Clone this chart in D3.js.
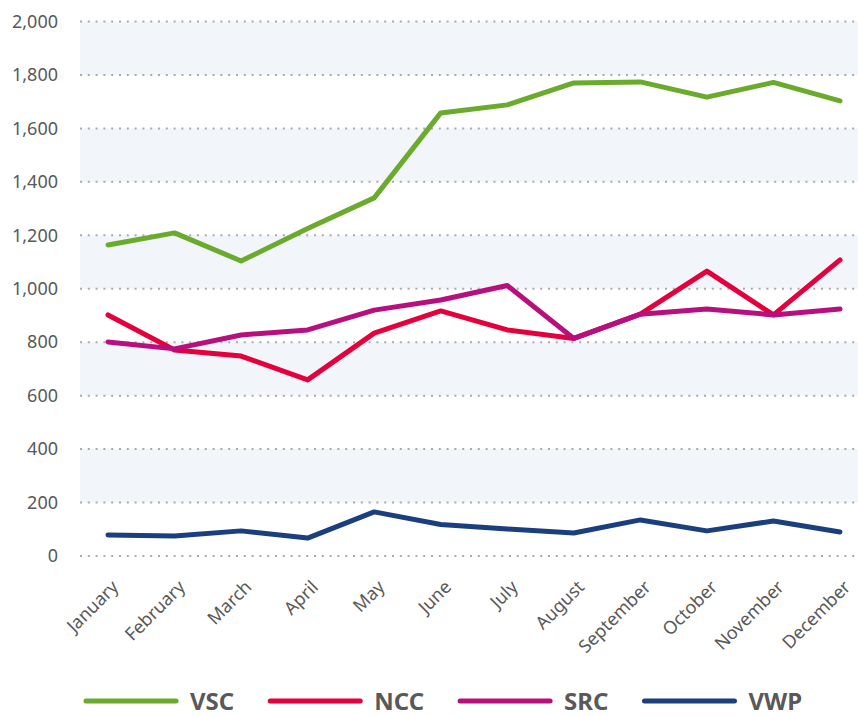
<!DOCTYPE html>
<html>
<head>
<meta charset="utf-8">
<script src="https://cdn.jsdelivr.net/npm/d3@7"></script>
<style>
  body { margin: 0; background: #fff; }
  svg { display: block; }
  svg text { font-family: "Noto Sans", sans-serif; }
  .axis text { fill: #595959; font-size: 18px; }
  .legend text { fill: #595959; font-size: 24px; font-weight: bold; }
</style>
</head>
<body>
<script>
var width = 858,
    height = 716;

// chart data
var months = ['January', 'February', 'March', 'April', 'May', 'June',
              'July', 'August', 'September', 'October', 'November', 'December'];
var vsc = [1164, 1209, 1104, 1225, 1340, 1658, 1688, 1770, 1774, 1717, 1772, 1703];
var ncc = [902, 771, 748, 659, 834, 917, 846, 814, 905, 1066, 902, 1108];
var src = [801, 775, 827, 846, 920, 958, 1012, 814, 905, 924, 902, 924];
var vwp = [79, 75, 94, 67, 165, 118, 101, 86, 135, 94, 131, 90];
var yTicks = [0, 200, 400, 600, 800, 1000, 1200, 1400, 1600, 1800, 2000];
var seriesNames = ['VSC', 'NCC', 'SRC', 'VWP'];
var seriesColors = ['#6aaa2c', '#e4003d', '#b80f7f', '#1b3f7e'];

var series = [vsc, ncc, src, vwp].map(function(vals, i) {
  return { name: seriesNames[i], color: seriesColors[i], values: vals };
});

var svg = d3.select('body').append('svg')
    .attr('width', width)
    .attr('height', height);

var plotLeft = 80, plotRight = 858;

var x = d3.scalePoint().domain(months).range([108, 840]);
var y = d3.scaleLinear().domain([0, 2000]).range([556, 21.5]);

// alternating shaded bands
var bands = d3.pairs(yTicks).filter(function(p, i) { return i % 2 === 1; });
svg.append('g').selectAll('rect')
  .data(bands)
  .enter().append('rect')
    .attr('x', plotLeft)
    .attr('width', plotRight - plotLeft)
    .attr('y', function(d) { return y(d[1]); })
    .attr('height', function(d) { return y(d[0]) - y(d[1]); })
    .attr('fill', '#f2f5f9');

// dotted grid lines
svg.append('g').selectAll('line')
  .data(yTicks)
  .enter().append('line')
    .attr('x1', plotLeft)
    .attr('x2', plotRight)
    .attr('y1', function(d) { return y(d); })
    .attr('y2', function(d) { return y(d); })
    .attr('stroke', '#aaaaaa')
    .attr('stroke-width', 2)
    .attr('stroke-dasharray', '2,5.8');

// y axis labels
var yAxis = svg.append('g')
    .attr('class', 'axis')
    .attr('transform', 'translate(' + plotLeft + ',0)')
    .call(d3.axisLeft(y).tickValues(yTicks).tickSize(0).tickPadding(22).tickFormat(d3.format(',')));
yAxis.select('.domain').remove();

// x axis labels, rotated
var xAxis = svg.append('g')
    .attr('class', 'axis')
    .attr('transform', 'translate(0,556)')
    .call(d3.axisBottom(x).tickSize(0));
xAxis.select('.domain').remove();
xAxis.selectAll('text')
    .attr('text-anchor', 'end')
    .attr('dy', 0)
    .attr('transform', 'translate(9,30) rotate(-45)');

// lines
var line = d3.line()
    .x(function(d, i) { return x(months[i]); })
    .y(function(d) { return y(d); });

svg.append('g').selectAll('path')
  .data(series)
  .enter().append('path')
    .attr('d', function(d) { return line(d.values); })
    .attr('fill', 'none')
    .attr('stroke', function(d) { return d.color; })
    .attr('stroke-width', 5)
    .attr('stroke-linejoin', 'round')
    .attr('stroke-linecap', 'round');

// legend
var legend = svg.append('g').attr('class', 'legend');
var lx = 86;
series.forEach(function(s) {
  var item = legend.append('g').attr('transform', 'translate(' + lx + ',701)');
  item.append('line')
    .attr('x1', 0).attr('x2', 90)
    .attr('stroke', s.color)
    .attr('stroke-width', 5)
    .attr('stroke-linecap', 'round');
  var t = item.append('text')
    .attr('x', 104)
    .attr('dy', '0.36em')
    .text(s.name);
  lx += 104 + t.node().getComputedTextLength() + 36;
});
</script>
</body>
</html>
